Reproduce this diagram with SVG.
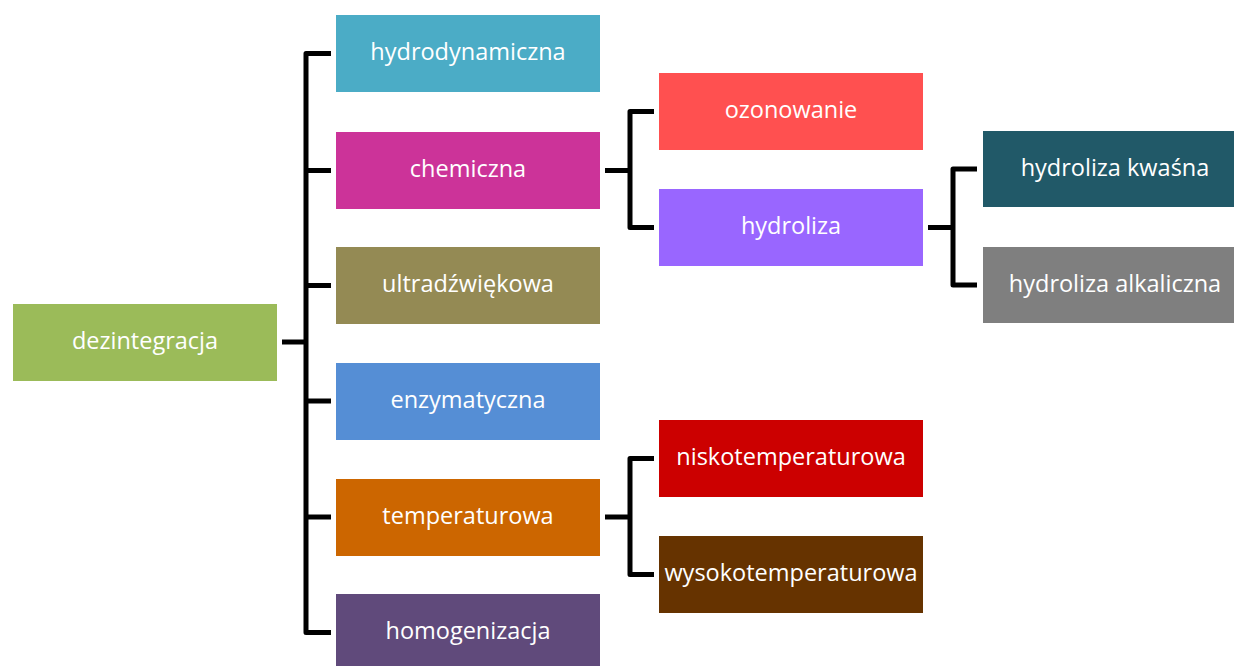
<svg xmlns="http://www.w3.org/2000/svg" width="1234" height="666" viewBox="0 0 1234 666">
<style>
.box text{font-family:"Open Sans","Liberation Sans",sans-serif;font-size:23.5px;fill:#ffffff;text-anchor:middle}
.conn path{fill:none;stroke:#000000;stroke-width:5;stroke-linejoin:round;stroke-linecap:butt}
</style>
<rect x="0" y="0" width="1234" height="666" fill="#ffffff"/>
<g class="conn" id="connectors">
<path d="M282,342 H306"/>
<path d="M331,53.5 H306 V632.5 H331"/>
<path d="M306,170.5 H331"/>
<path d="M306,285.5 H331"/>
<path d="M306,401 H331"/>
<path d="M306,517 H331"/>
<path d="M605,170.5 H630"/>
<path d="M654,111.5 H630 V227.5 H654"/>
<path d="M928,227.5 H953"/>
<path d="M977,169 H953 V285 H977"/>
<path d="M605,517 H630"/>
<path d="M654,458.5 H630 V574.5 H654"/>
</g>
<g class="box" id="n-dezintegracja"><rect x="13" y="304" width="264" height="77" fill="#9BBB59"/><text x="145" y="349">dezintegracja</text></g>
<g class="box" id="n-hydrodynamiczna"><rect x="336" y="15" width="264" height="77" fill="#4BACC6"/><text x="468" y="60">hydrodynamiczna</text></g>
<g class="box" id="n-chemiczna"><rect x="336" y="132" width="264" height="77" fill="#CC3399"/><text x="468" y="177">chemiczna</text></g>
<g class="box" id="n-ultradzwiekowa"><rect x="336" y="247" width="264" height="77" fill="#948A54"/><text x="468" y="292">ultradźwiękowa</text></g>
<g class="box" id="n-enzymatyczna"><rect x="336" y="363" width="264" height="77" fill="#558ED5"/><text x="468" y="408">enzymatyczna</text></g>
<g class="box" id="n-temperaturowa"><rect x="336" y="479" width="264" height="77" fill="#CC6600"/><text x="468" y="524">temperaturowa</text></g>
<g class="box" id="n-homogenizacja"><rect x="336" y="594" width="264" height="77" fill="#604A7B"/><text x="468" y="639">homogenizacja</text></g>
<g class="box" id="n-ozonowanie"><rect x="659" y="73" width="264" height="77" fill="#FF5050"/><text x="791" y="118">ozonowanie</text></g>
<g class="box" id="n-hydroliza"><rect x="659" y="189" width="264" height="77" fill="#9966FF"/><text x="791" y="234">hydroliza</text></g>
<g class="box" id="n-hydroliza-kwasna"><rect x="983" y="131" width="264" height="76" fill="#215968"/><text x="1115" y="175.5">hydroliza kwaśna</text></g>
<g class="box" id="n-hydroliza-alkaliczna"><rect x="983" y="247" width="264" height="76" fill="#7F7F7F"/><text x="1115" y="291.5">hydroliza alkaliczna</text></g>
<g class="box" id="n-niskotemperaturowa"><rect x="659" y="420" width="264" height="77" fill="#CC0000"/><text x="791" y="465">niskotemperaturowa</text></g>
<g class="box" id="n-wysokotemperaturowa"><rect x="659" y="536" width="264" height="77" fill="#663300"/><text x="791" y="581">wysokotemperaturowa</text></g>
</svg>
